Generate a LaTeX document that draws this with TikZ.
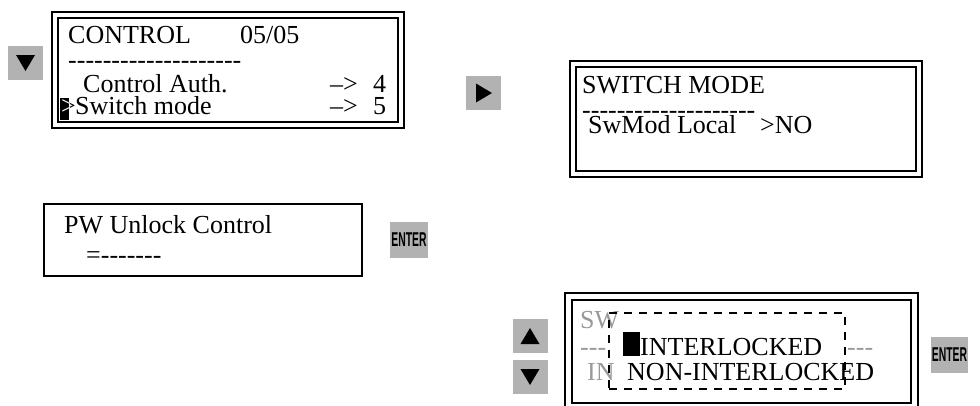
\documentclass[tikz,border=0pt]{standalone}
\usepackage{fontspec}
\setmainfont{Liberation Serif}[Ligatures=TeXOff]
\newfontfamily\keyfont{Liberation Sans}[Ligatures=TeXOff]
\definecolor{keygray}{gray}{0.7}
\definecolor{dimgray}{gray}{0.6}
\newcommand{\enterlabel}{\scalebox{0.52}[1]{\keyfont\bfseries\fontsize{20}{20}\selectfont ENTER}}

\begin{document}
\begin{tikzpicture}[x=1pt,y=-1pt,
  lcd/.style={draw,line width=2.2pt,double,double distance=4.3pt,minimum width=346pt,minimum height=110pt,inner sep=0pt},
  key/.style={fill=keygray,minimum width=35pt,minimum height=34pt,inner sep=0pt},
  txt/.style={anchor=base west,inner sep=0pt,font=\fontsize{26}{30}\selectfont},
  dim/.style={txt,text=dimgray}]
\useasboundingbox (0,0) rectangle (980,405);
% display panels
\node[lcd] (ctrl) at (228,70) {};
\node[lcd] (swm) at (746,119) {};
\node[lcd] (sel) at (741.5,351.5) {};
\node[draw,line width=2.5pt,minimum width=318pt,minimum height=72pt] (pw) at (203,240) {};
% keys
\node[key] (down) at (25.5,63) {};
\fill ([shift={(-9.5,-8)}]down.center) -- ++(19,0) -- ++(-9.5,16) -- cycle;
\node[key] (right) at (483.5,93) {};
\fill ([shift={(-7.5,-9.5)}]right.center) -- ++(0,19) -- ++(16,-9.5) -- cycle;
\node[key] (up2) at (530,336) {};
\fill ([shift={(-9.5,8)}]up2.center) -- ++(19,0) -- ++(-9.5,-16) -- cycle;
\node[key] (down2) at (530,377) {};
\fill ([shift={(-9.5,-8)}]down2.center) -- ++(19,0) -- ++(-9.5,16) -- cycle;
\node[key,minimum width=38pt,minimum height=36pt] (enter1) at (409,240) {\enterlabel};
\node[key,minimum width=37pt,minimum height=36pt] (enter2) at (949.5,355) {\enterlabel};
% CONTROL screen
\node[txt] (ctitle) at (68,43) {CONTROL};
\node[txt] (cpage) at (240,43) {05/05};
\node[txt] (cline) at (68,68) {--------------------};
\node[txt] (cauth) at (83,92) {Control Auth.};
\node[txt] (carr1) at (330,92) {–>};
\node[txt] (cnum1) at (373,92) {4};
\fill (60,98) rectangle (69,120);
\node[txt] (cgt) at (61,114) {>};
\begin{scope}
\clip (60,98) rectangle (69,120);
\node[txt,text=white] (cgtw) at (61,114) {>};
\end{scope}
\node[txt] (cswm) at (75,114) {Switch mode};
\node[txt] (carr2) at (330,114) {–>};
\node[txt] (cnum2) at (373,114) {5};
% SWITCH MODE screen
\node[txt] (stitle) at (582,93) {SWITCH MODE};
\node[txt] (sline) at (582,118) {--------------------};
\node[txt] (sloc) at (588,133) {SwMod Local};
\node[txt] (sval) at (760,133) {>NO};
% password screen
\node[txt] (ptitle) at (64,233) {PW Unlock Control};
\node[txt] (pval) at (86,263) {=-------};
% selection screen
\node[dim] (dsw) at (580,328) {SW};
\node[dim] (dl1) at (580,355) {---};
\node[dim] (dl2) at (847,355) {---};
\node[dim] (din) at (587,380) {IN};
\node[draw,line width=2pt,dash pattern=on 8pt off 7pt,minimum width=236pt,minimum height=76pt] (pop) at (727,351) {};
\fill (623,332) rectangle (640,356);
\node[txt] (opt1) at (640,355) {INTERLOCKED};
\node[txt] (opt2) at (627,380) {NON-INTERLOCKED};
\end{tikzpicture}
\end{document}
